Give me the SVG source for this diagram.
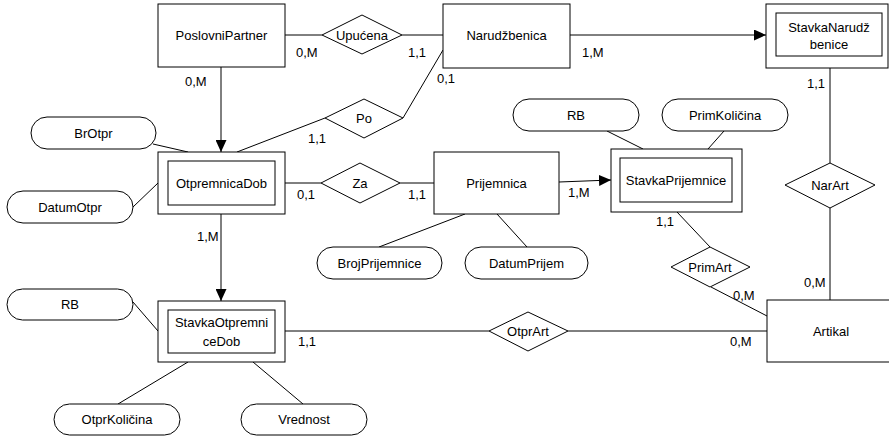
<svg xmlns="http://www.w3.org/2000/svg" width="889" height="436" viewBox="0 0 889 436">
<defs>
<marker id="arr" markerUnits="userSpaceOnUse" markerWidth="12" markerHeight="11" refX="12" refY="5.5" orient="auto">
<path d="M0,0 L12,5.5 L0,11 z" fill="#000"/>
</marker>
</defs>
<style>
text{font-family:"Liberation Sans",Arial,sans-serif;font-size:13px;fill:#000}
.c{text-anchor:middle}
rect.n,path.d{fill:#fff;stroke:#000;stroke-width:1}
.e{fill:#fff;stroke:#000;stroke-width:1}
#connectors line{stroke:#000;stroke-width:1;fill:none}
</style>
<rect x="0" y="0" width="889" height="436" fill="#fff"/>
<g id="connectors">
<line x1="285" y1="35" x2="322" y2="35"/>
<line x1="402" y1="35" x2="443" y2="35"/>
<line x1="570" y1="35" x2="766" y2="35" marker-end="url(#arr)"/>
<line x1="221" y1="67" x2="221" y2="152" marker-end="url(#arr)"/>
<line x1="237" y1="152" x2="325" y2="118"/>
<line x1="403" y1="118" x2="443" y2="50"/>
<line x1="153" y1="144" x2="188" y2="152"/>
<line x1="133" y1="207" x2="158" y2="183"/>
<line x1="285" y1="183" x2="321" y2="183"/>
<line x1="400" y1="183" x2="434" y2="183"/>
<line x1="559" y1="182" x2="611" y2="180" marker-end="url(#arr)"/>
<line x1="465" y1="214" x2="379" y2="247"/>
<line x1="497" y1="214" x2="527" y2="247"/>
<line x1="607" y1="131" x2="643" y2="149"/>
<line x1="724" y1="131" x2="708" y2="149"/>
<line x1="830" y1="68" x2="830" y2="163"/>
<line x1="830" y1="208" x2="830" y2="300"/>
<line x1="677" y1="212" x2="710" y2="247"/>
<line x1="711" y1="287" x2="767" y2="316"/>
<line x1="221" y1="214" x2="221" y2="301" marker-end="url(#arr)"/>
<line x1="133" y1="302" x2="158" y2="331"/>
<line x1="285" y1="331" x2="489" y2="331"/>
<line x1="568" y1="331" x2="767" y2="331"/>
<line x1="188" y1="362" x2="118" y2="404"/>
<line x1="253" y1="362" x2="303" y2="404"/>
</g>
<g id="PoslovniPartner"><rect class="n" x="158" y="4" width="127" height="63"/><text class="c" x="221.5" y="40">PoslovniPartner</text></g>
<g id="Upucena"><path class="d" d="M322,35 L362,15 L402,35 L362,54 z"/><text class="c" x="362" y="40">Upućena</text></g>
<g id="Narudzbenica"><rect class="n" x="443" y="4" width="127" height="64"/><text class="c" x="506.5" y="40">Narudžbenica</text></g>
<g id="StavkaNarudzbenice"><rect class="n" x="766" y="4" width="122" height="64"/><rect class="n" x="776" y="13" width="106" height="43"/><text class="c" x="829" y="32">StavkaNarudž</text><text class="c" x="829" y="49">benice</text></g>
<g id="Po"><path class="d" d="M325,118 L364,99 L403,118 L364,138 z"/><text class="c" x="364" y="123">Po</text></g>
<g id="BrOtpr"><rect class="e" x="31" y="117" width="125" height="32" rx="16"/><text class="c" x="93.5" y="138">BrOtpr</text></g>
<g id="OtpremnicaDob"><rect class="n" x="158" y="152" width="127" height="62"/><rect class="n" x="168" y="161" width="107" height="44"/><text class="c" x="221.5" y="188">OtpremnicaDob</text></g>
<g id="DatumOtpr"><rect class="e" x="7" y="191" width="126" height="32" rx="16"/><text class="c" x="70" y="212">DatumOtpr</text></g>
<g id="Za"><path class="d" d="M321,183 L360,163 L400,183 L360,203 z"/><text class="c" x="360" y="188">Za</text></g>
<g id="Prijemnica"><rect class="n" x="434" y="152" width="125" height="62"/><text class="c" x="496.5" y="188">Prijemnica</text></g>
<g id="BrojPrijemnice"><rect class="e" x="317" y="247" width="125" height="32" rx="16"/><text class="c" x="379.5" y="268">BrojPrijemnice</text></g>
<g id="DatumPrijem"><rect class="e" x="465" y="247" width="123" height="32" rx="16"/><text class="c" x="526.5" y="268">DatumPrijem</text></g>
<g id="RB2"><rect class="e" x="513" y="99" width="126" height="32" rx="16"/><text class="c" x="576" y="120">RB</text></g>
<g id="PrimKolicina"><rect class="e" x="662" y="99" width="126" height="32" rx="16"/><text class="c" x="725" y="120">PrimKoličina</text></g>
<g id="StavkaPrijemnice"><rect class="n" x="611" y="149" width="131" height="63"/><rect class="n" x="620" y="158" width="112" height="44"/><text class="c" x="676" y="185">StavkaPrijemnice</text></g>
<g id="NarArt"><path class="d" d="M785,185 L830,163 L875,185 L830,208 z"/><text class="c" x="830" y="190">NarArt</text></g>
<g id="PrimArt"><path class="d" d="M671,267 L710,247 L750,267 L710,287 z"/><text class="c" x="710" y="272">PrimArt</text></g>
<g id="Artikal"><rect class="n" x="767" y="300" width="130" height="62"/><text class="c" x="831" y="336">Artikal</text></g>
<g id="StavkaOtpremniceDob"><rect class="n" x="158" y="301" width="127" height="61"/><rect class="n" x="168" y="310" width="107" height="43"/><text class="c" x="221.5" y="327">StavkaOtpremni</text><text class="c" x="221.5" y="346">ceDob</text></g>
<g id="RB1"><rect class="e" x="7" y="289" width="126" height="31" rx="15.5"/><text class="c" x="70" y="309">RB</text></g>
<g id="OtprArt"><path class="d" d="M489,331 L528,312 L568,331 L528,351 z"/><text class="c" x="528" y="336">OtprArt</text></g>
<g id="OtprKolicina"><rect class="e" x="54" y="404" width="126" height="31" rx="15.5"/><text class="c" x="117" y="424">OtprKoličina</text></g>
<g id="Vrednost"><rect class="e" x="241" y="404" width="126" height="31" rx="15.5"/><text class="c" x="304" y="424">Vrednost</text></g>
<g id="labels">
<text x="296" y="57">0,M</text>
<text x="408" y="57">1,1</text>
<text x="582" y="57">1,M</text>
<text x="185" y="86">0,M</text>
<text x="437" y="83">0,1</text>
<text x="308" y="143">1,1</text>
<text x="807" y="88">1,1</text>
<text x="297" y="199">0,1</text>
<text x="408" y="199">1,1</text>
<text x="568" y="197">1,M</text>
<text x="197" y="241">1,M</text>
<text x="656" y="226">1,1</text>
<text x="804" y="287">0,M</text>
<text x="733" y="300">0,M</text>
<text x="298" y="346">1,1</text>
<text x="730" y="346">0,M</text>
</g>
</svg>
